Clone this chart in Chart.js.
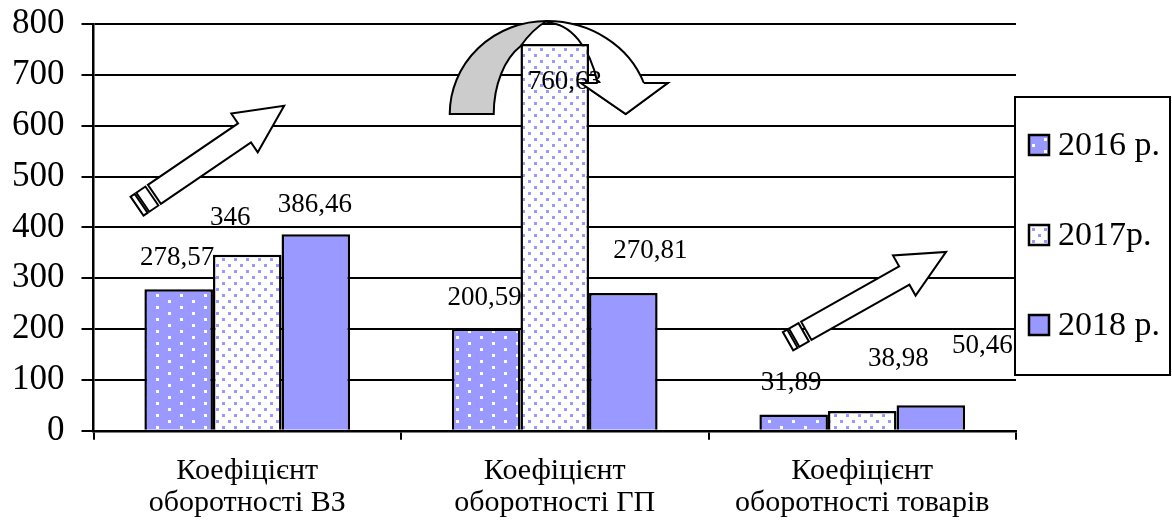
<html>
<head>
  <meta charset="UTF-8">
  <script src="https://cdn.jsdelivr.net/npm/chart.js@4.4.0/dist/chart.umd.min.js"></script>
  <style> body {padding: 0; margin: 0; background: #fff;} </style>
</head>
<body>
<canvas id="myChart" width="1172" height="526"></canvas>
<script>

// categories (two-line labels) and series
var categories = [
  ['Коефіцієнт', 'оборотності ВЗ'],
  ['Коефіцієнт', 'оборотності ГП'],
  ['Коефіцієнт', 'оборотності товарів']
];
var seriesNames = ['2016 р.', '2017р.', '2018 р.'];
var values2016 = [278.57, 200.59, 31.89];
var values2017 = [346, 760.63, 38.98];
var values2018 = [386.46, 270.81, 50.46];
var yMin = 0, yMax = 800, yStep = 100;

// where the value labels sit (value units) and their sideways shift (px)
var labelAt    = [[340, 261, 95], [418.7, 686, 141.5], [444, 354, 167]];
var labelShift = [[-1.5, -1.5, -2.5], [-17, 10, 36], [-1, 27, 51.5]];

var serif = "'Liberation Serif', 'Times New Roman', serif";
Chart.defaults.font.family = serif;
Chart.defaults.color = '#000';

function makePattern(bg, dot, w, h, pts, size) {
  var c = document.createElement('canvas');
  c.width = w; c.height = h;
  var g = c.getContext('2d');
  g.fillStyle = bg;
  g.fillRect(0, 0, w, h);
  g.fillStyle = dot;
  pts.forEach(function (p) { g.fillRect(p[0], p[1], size, size); });
  return g.createPattern(c, 'repeat');
}

var fill2016 = makePattern('#9999FF', '#FFFFFF', 24, 12, [[0, 0], [12, 6]], 3);
var fill2017 = makePattern('#FFFFFF', '#9999FF', 12, 12, [[0, 0], [6, 6]], 3);
var fill2018 = '#9999FF';
var fills = [fill2016, fill2017, fill2018];

function fmt(v) { return String(v).replace('.', ','); }

// straight block arrow with striped tail
function blockArrow(ctx, x0, y0, x1, y1, sw, hw, hl) {
  var dx = x1 - x0, dy = y1 - y0, L = Math.hypot(dx, dy);
  var ux = dx / L, uy = dy / L, nx = -uy, ny = ux;
  function P(a, b) { return [x0 + ux * a + nx * b, y0 + uy * a + ny * b]; }
  var pts = [P(0, sw / 2), P(L - hl, sw / 2), P(L - hl, hw / 2), P(L, 0),
             P(L - hl, -hw / 2), P(L - hl, -sw / 2), P(0, -sw / 2)];
  ctx.beginPath();
  ctx.moveTo(pts[0][0], pts[0][1]);
  for (var i = 1; i < pts.length; i++) ctx.lineTo(pts[i][0], pts[i][1]);
  ctx.closePath();
  ctx.fill(); ctx.stroke();
  [[-3, -14], [-16, -21]].forEach(function (s) {
    var q = [P(s[0], sw / 2), P(s[1], sw / 2), P(s[1], -sw / 2), P(s[0], -sw / 2)];
    ctx.beginPath();
    ctx.moveTo(q[0][0], q[0][1]);
    for (var k = 1; k < 4; k++) ctx.lineTo(q[k][0], q[k][1]);
    ctx.closePath();
    ctx.fill(); ctx.stroke();
  });
}

function curvedCenter(chart) {
  var a = chart.chartArea;
  return [a.left + 0.4913 * a.width, chart.scales.y.getPixelForValue(623)];
}

function arrowHead(ctx, cx, cy) {
  ctx.beginPath();
  ctx.moveTo(cx + 121, cy - 31);
  ctx.lineTo(cx + 79, cy);
  ctx.lineTo(cx + 34, cy - 31);
  ctx.closePath();
  ctx.fill();
  ctx.beginPath();
  ctx.moveTo(cx + 97, cy - 31);
  ctx.lineTo(cx + 121, cy - 31);
  ctx.lineTo(cx + 79, cy);
  ctx.lineTo(cx + 34, cy - 31);
  ctx.lineTo(cx + 51, cy - 31);
  ctx.stroke();
}

var decorPlugin = {
  id: 'decor',
  beforeDatasetsDraw: function (chart) {
    var ctx = chart.ctx, c = curvedCenter(chart), cx = c[0], cy = c[1];
    ctx.save();
    ctx.lineWidth = 2;
    ctx.strokeStyle = '#000';
    // shaded back part
    ctx.beginPath();
    ctx.ellipse(cx, cy, 97, 93, 0, Math.PI, 1.5 * Math.PI);
    ctx.quadraticCurveTo(cx - 14, cy - 85, cx - 26, cy - 68);
    ctx.ellipse(cx - 4, cy, 49, 76, 0, -2.036, -Math.PI, true);
    ctx.closePath();
    ctx.fillStyle = '#CCCCCC';
    ctx.fill(); ctx.stroke();
    // white front part with head
    ctx.beginPath();
    ctx.ellipse(cx, cy, 103, 93, 0, -Math.PI / 2, -0.34);
    ctx.lineTo(cx + 121, cy - 31);
    ctx.lineTo(cx + 79, cy);
    ctx.lineTo(cx + 34, cy - 31);
    ctx.lineTo(cx + 51, cy - 31);
    ctx.ellipse(cx + 1, cy, 53, 91, 0, -0.35, -Math.PI / 2, true);
    ctx.closePath();
    ctx.fillStyle = '#FFFFFF';
    ctx.fill(); ctx.stroke();
    ctx.restore();
  },
  afterDatasetsDraw: function (chart) {
    var ctx = chart.ctx, y = chart.scales.y, a = chart.chartArea;
    ctx.save();
    ctx.font = '27px ' + serif;
    ctx.fillStyle = '#000';
    ctx.textAlign = 'center';
    ctx.textBaseline = 'middle';
    chart.data.datasets.forEach(function (ds, i) {
      chart.getDatasetMeta(i).data.forEach(function (bar, j) {
        ctx.fillText(fmt(ds.data[j]), bar.x + labelShift[i][j], y.getPixelForValue(labelAt[i][j]));
      });
    });
    ctx.lineWidth = 2;
    ctx.strokeStyle = '#000';
    ctx.fillStyle = '#FFFFFF';
    var c = curvedCenter(chart);
    arrowHead(ctx, c[0], c[1]);
    function X(f) { return a.left + f * a.width; }
    blockArrow(ctx, X(0.066), y.getPixelForValue(465), X(0.2067), y.getPixelForValue(639), 23, 47, 48);
    blockArrow(ctx, X(0.7727), y.getPixelForValue(196.6), X(0.9242), y.getPixelForValue(351.8), 21, 46, 48);
    ctx.restore();
  },
  afterDraw: function (chart) {
    var ctx = chart.ctx, a = chart.chartArea;
    var lx = a.right - 1, ly = 97, lw = chart.width - a.right - 1, lh = 278;
    ctx.save();
    ctx.fillStyle = '#FFFFFF';
    ctx.fillRect(lx, ly, lw, lh);
    ctx.lineWidth = 2;
    ctx.strokeStyle = '#000';
    ctx.strokeRect(lx, ly, lw, lh);
    ctx.font = '34px ' + serif;
    ctx.textBaseline = 'middle';
    ctx.textAlign = 'left';
    seriesNames.forEach(function (name, i) {
      var cyy = ly + 48 + i * 90;
      ctx.fillStyle = fills[i];
      ctx.fillRect(lx + 14, cyy - 10, 20, 20);
      ctx.lineWidth = 2.5;
      ctx.strokeRect(lx + 14, cyy - 10, 20, 20);
      ctx.fillStyle = '#000';
      ctx.fillText(name, lx + 43, cyy + 1);
    });
    ctx.restore();
  }
};

var ctx = document.getElementById('myChart').getContext('2d');
var myChart = new Chart(ctx, {
  type: 'bar',
  data: {
    labels: categories,
    datasets: [
      { label: seriesNames[0], data: values2016, backgroundColor: fill2016 },
      { label: seriesNames[1], data: values2017, backgroundColor: fill2017 },
      { label: seriesNames[2], data: values2018, backgroundColor: fill2018 }
    ]
  },
  options: {
    responsive: false,
    devicePixelRatio: 1,
    animation: false,
    layout: { padding: { left: -5, right: 156, top: 0, bottom: -8 } },
    datasets: {
      bar: {
        borderColor: '#000',
        borderWidth: 2.5,
        categoryPercentage: 0.669,
        barPercentage: 1
      }
    },
    plugins: { legend: { display: false }, tooltip: { enabled: false } },
    scales: {
      x: {
        grid: { drawOnChartArea: false, drawTicks: true, tickLength: 9, color: '#000', lineWidth: 2 },
        border: { display: true, color: '#000', width: 2.5 },
        ticks: { font: { size: 30, lineHeight: 1.07 }, color: '#000', padding: 15, maxRotation: 0 }
      },
      y: {
        min: yMin, max: yMax,
        grid: { color: '#000', lineWidth: 2, tickLength: 12 },
        border: { display: true, color: '#000', width: 2.5 },
        ticks: { stepSize: yStep, font: { size: 35, lineHeight: 0.4 }, color: '#000', padding: 17 }
      }
    }
  },
  plugins: [decorPlugin]
});

</script>
</body>
</html>
